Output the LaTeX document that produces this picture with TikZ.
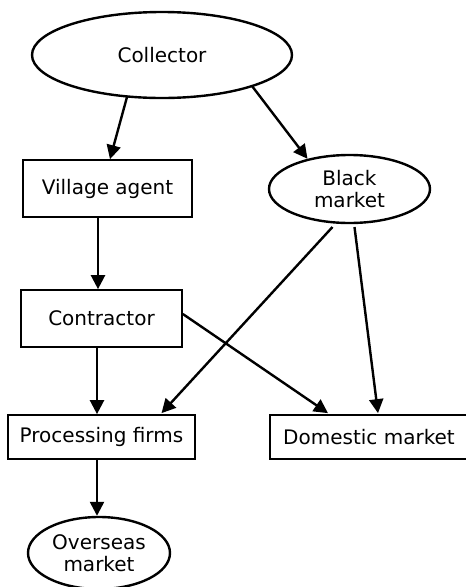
\documentclass[tikz,border=0pt]{standalone}
\usepackage{fontspec}
\setmainfont{DejaVu Sans}
\usetikzlibrary{shapes.geometric,arrows.meta}
\begin{document}
\begin{tikzpicture}[x=1pt,y=-1pt,
  every node/.style={font=\fontsize{20}{22}\selectfont, align=center, inner sep=0pt},
  boxnode/.style={draw, line width=1.7pt, rectangle},
  ellnode/.style={draw, line width=2.4pt, ellipse},
  link/.style={line width=2.4pt, -{Triangle[length=14pt,width=14pt]}}]
\useasboundingbox (0,0) rectangle (466,587);
\node[ellnode, minimum width=260pt, minimum height=86pt] (col) at (162,55) {Collector};
\node[boxnode, minimum width=169pt, minimum height=57pt] (va) at (107.5,188.5) {Village agent};
\node[ellnode, minimum width=161pt, minimum height=68pt] (bm) at (349.5,189) {Black\\market};
\node[boxnode, minimum width=161pt, minimum height=57pt] (con) at (101.5,318.5) {Contractor};
\node[boxnode, minimum width=187pt, minimum height=44pt] (pf) at (101.5,437) {Processing firms};
\node[boxnode, minimum width=198pt, minimum height=44pt] (dm) at (369,437) {Domestic market};
\node[ellnode, minimum width=142pt, minimum height=72pt] (om) at (99,553) {Overseas\\market};
\draw[link] ([shift={(-35,42)}]col.center) -- ([shift={(2.5,0)}]va.north);
\draw[link] ([shift={(90,31)}]col.center) -- ([shift={(-42,5)}]bm.north);
\draw[link] ([shift={(-9.5,0)}]va.south) -- ([shift={(-3.5,0)}]con.north);
\draw[link] ([shift={(-17,38)}]bm.center) -- ([shift={(60,-1)}]pf.north);
\draw[link] ([shift={(5,38)}]bm.center) -- ([shift={(9,-1)}]dm.north);
\draw[link] ([shift={(0,-4.5)}]con.east) -- ([shift={(-41,-1)}]dm.north);
\draw[link] ([shift={(-4.5,0)}]con.south) -- ([shift={(-4.5,0)}]pf.north);
\draw[link] ([shift={(-4.5,0)}]pf.south) -- ([shift={(-2,0)}]om.north);
\end{tikzpicture}
\end{document}
